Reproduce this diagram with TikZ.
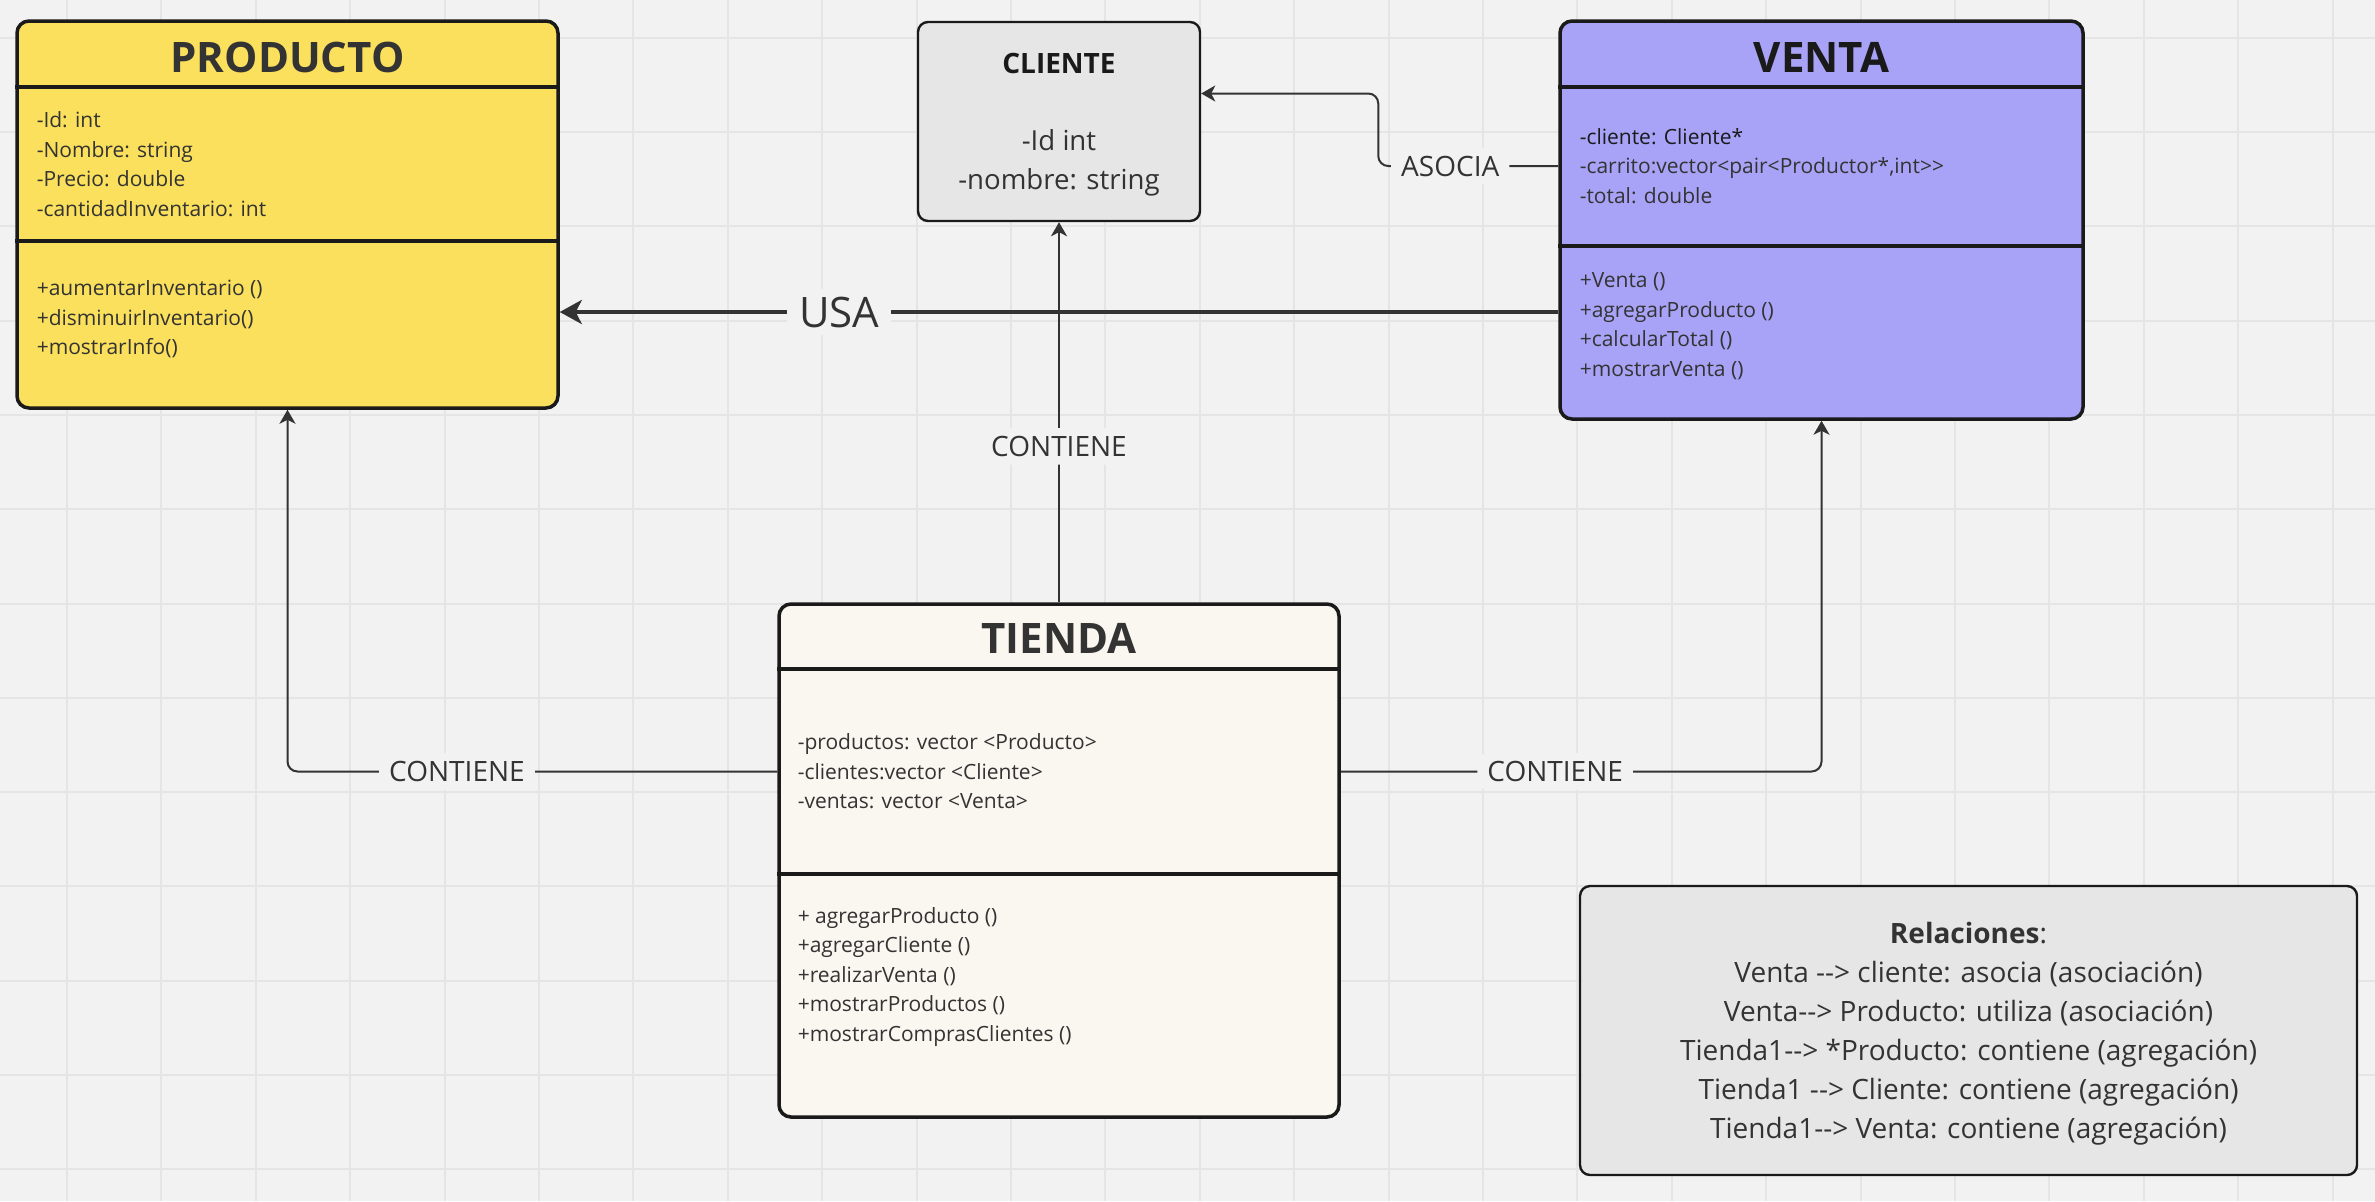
\documentclass[tikz,border=0pt]{standalone}
\usepackage{fontspec}
\setmainfont{Open Sans}
\usetikzlibrary{arrows.meta}
\tikzset{every picture/.style={line width=0.75pt}}
\definecolor{bgcol}{HTML}{F2F2F2}
\definecolor{gridcol}{HTML}{E5E5E5}
\definecolor{inkcol}{HTML}{333333}
\definecolor{edgecol}{HTML}{1A1A1A}
\definecolor{prodfill}{HTML}{FAE05C}
\definecolor{ventafill}{HTML}{A8A3F7}
\definecolor{tiendafill}{HTML}{FAF6F0}
\definecolor{greyfill}{HTML}{E6E6E6}
\newcommand{\relarrow}{-\kern0pt-\kern0pt>}
\tikzset{
  gridline/.style={draw=gridcol, line width=1pt},
  classbox/.style={draw=edgecol, line width=1.75pt, rounded corners=6pt, inner sep=0pt},
  notebox/.style={draw=edgecol, fill=greyfill, line width=1.2pt, rounded corners=5pt, inner sep=0pt},
  classtitle/.style={font=\fontsize{21}{24}\selectfont\bfseries, text=inkcol, inner sep=0pt},
  members/.style={anchor=west, align=left, font=\fontsize{10.5}{14.75}\selectfont, text=inkcol, inner sep=0pt},
  divider/.style={draw=edgecol, line width=1.6pt},
  conn/.style={draw=inkcol, line width=1pt, rounded corners=5pt, -{Stealth[length=7pt,width=8pt,inset=2pt]}},
  usaconn/.style={draw=inkcol, line width=2pt, -{Stealth[length=11pt,width=12pt,inset=3pt]}},
  lbl/.style={fill=bgcol, text=inkcol, font=\fontsize{14}{16}\selectfont, inner xsep=5pt, inner ysep=4pt}
}

\begin{document}
\begin{tikzpicture}[x=0.5pt,y=0.5pt,yscale=-1]
%background with grid
\fill[bgcol] (0,0) rectangle (2375,1201);
\useasboundingbox (0,0) rectangle (2375,1201);
\foreach \gx in {0,...,24} \draw[gridline] ({67+94.4*\gx},0) -- ({67+94.4*\gx},1201);
\foreach \gy in {0,...,12} \draw[gridline] (0,{37.7+94.3*\gy}) -- (2375,{37.7+94.3*\gy});

%Shape: Class PRODUCTO
\node[classbox, fill=prodfill, minimum width=270.5pt, minimum height=193.5pt] (producto) at (287.5,214.5) {};
\draw[divider] (producto.west |- 0,87) -- (producto.east |- 0,87);
\draw[divider] (producto.west |- 0,241) -- (producto.east |- 0,241);
% Text Node
\node[classtitle] (producto-title) at (287.5,57) {PRODUCTO};
% Text Node
\node[members] (producto-attr) at (36,164) {-Id: int\\-Nombre: string\\-Precio: double\\-cantidadInventario: int};
% Text Node
\node[members] (producto-meth) at (36,319) {+aumentarInventario ()\\+disminuirInventario()\\+mostrarInfo()};

%Shape: Class CLIENTE
\node[notebox, minimum width=141pt, minimum height=99.5pt] (cliente) at (1059,121.5) {};
% Text Node
\node[text=edgecol, font=\fontsize{14}{16}\selectfont\bfseries, inner sep=0pt] (cliente-title) at (1059,63) {CLIENTE};
% Text Node
\node[align=center, text=inkcol, font=\fontsize{13.8}{19.5}\selectfont, inner sep=0pt] (cliente-attr) at (1059,163) {-Id int\\-nombre: string};

%Shape: Class VENTA
\node[classbox, fill=ventafill, minimum width=261.5pt, minimum height=199pt] (venta) at (1821.5,220) {};
\draw[divider] (venta.west |- 0,87) -- (venta.east |- 0,87);
\draw[divider] (venta.west |- 0,246) -- (venta.east |- 0,246);
% Text Node
\node[classtitle, text=edgecol] (venta-title) at (1821.5,57) {VENTA};
% Text Node
\node[members] (venta-attr) at (1579,166) {\textcolor{edgecol}{-cliente: Cliente*}\\-carrito:vector<pair<Productor*,int>{}>\\-total: double};
% Text Node
\node[members] (venta-meth) at (1579,326) {+Venta ()\\+agregarProducto ()\\+calcularTotal ()\\+mostrarVenta ()};

%Shape: Class TIENDA
\node[classbox, fill=tiendafill, minimum width=280pt, minimum height=256.5pt] (tienda) at (1059,860.5) {};
\draw[divider] (tienda.west |- 0,669) -- (tienda.east |- 0,669);
\draw[divider] (tienda.west |- 0,874) -- (tienda.east |- 0,874);
% Text Node
\node[classtitle] (tienda-title) at (1059,638) {TIENDA};
% Text Node
\node[members] (tienda-attr) at (797,771.5) {-productos: vector <Producto>\\-clientes:vector <Cliente>\\-ventas: vector <Venta>};
% Text Node
\node[members] (tienda-meth) at (797,977) {+ agregarProducto ()\\+agregarCliente ()\\+realizarVenta ()\\+mostrarProductos ()\\+mostrarComprasClientes ()};

%Shape: Note Relaciones
\node[notebox, minimum width=388.5pt, minimum height=144.5pt] (relaciones) at (1968.5,1030.5) {};
% Text Node
\node[align=center, text=inkcol, font=\fontsize{14}{19.5}\selectfont, inner sep=0pt] (relaciones-text) at (1968.5,1034) {\textbf{Relaciones}:\\Venta \relarrow{} cliente: asocia (asociación)\\Venta\relarrow{} Producto: utiliza (asociación)\\Tienda1\relarrow{} *Producto: contiene (agregación)\\Tienda1 \relarrow{} Cliente: contiene (agregación)\\Tienda1\relarrow{} Venta: contiene (agregación)};

%Connectors
\coordinate (usa-y) at (0,312);
\coordinate (asocia-y) at (0,93.5);
\draw[usaconn] (venta.west |- usa-y) -- node[lbl, font=\fontsize{21}{24}\selectfont, inner xsep=6pt, pos=0.72] (usa-lbl) {USA} (producto.east |- usa-y);
\draw[conn] (venta.west |- venta-attr) -- node[lbl, pos=0.6] (asocia-lbl) {ASOCIA} ++(-180,0) |- (cliente.east |- asocia-y);
\draw[conn] (tienda.north) -- node[lbl, pos=0.41] (cont-cliente) {CONTIENE} (cliente.south);
\draw[conn] (tienda.west |- tienda-attr) -| node[lbl, pos=0.327] (cont-producto) {CONTIENE} (producto.south);
\draw[conn] (tienda.east |- tienda-attr) -| node[lbl, pos=0.223] (cont-venta) {CONTIENE} (venta.south);
\end{tikzpicture}
\end{document}
